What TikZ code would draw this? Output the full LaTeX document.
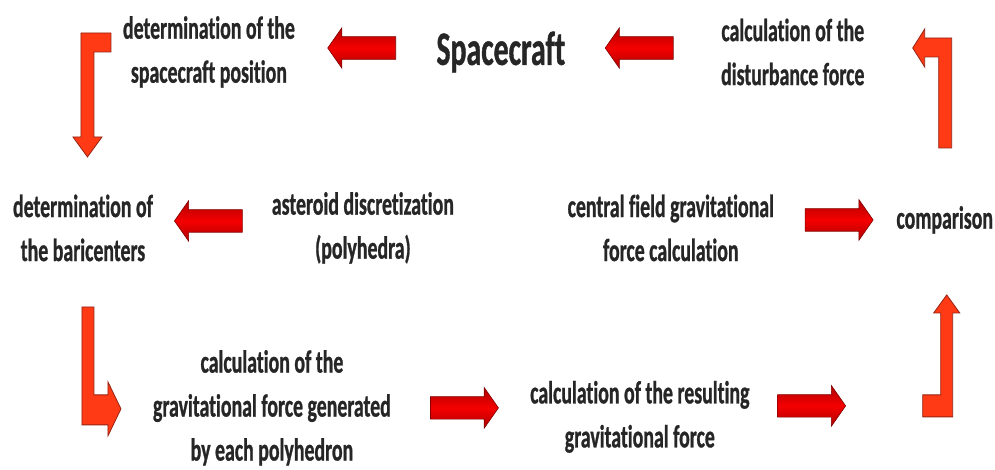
\documentclass[tikz,border=0pt]{standalone}
\usepackage{fontspec}
\newfontfamily\diagfont{Carlito}[FakeStretch=0.62, FakeBold=0.8, Ligatures=NoCommon]
\usepackage{tikz}
\usetikzlibrary{positioning,shapes.arrows}
\definecolor{arrowred}{RGB}{245,0,0}
\definecolor{arrowdark}{RGB}{175,0,0}
\definecolor{arrowedge}{RGB}{130,0,0}
\definecolor{bentorange}{RGB}{255,58,20}
\definecolor{bentedge}{RGB}{150,35,20}
\tikzstyle{stepbox} = [text centered, align=center, inner sep=2pt, text=black!85, font=\diagfont\bfseries\fontsize{32}{44}\selectfont]
\tikzstyle{titlebox} = [stepbox, font=\diagfont\bfseries\fontsize{48}{56}\selectfont]
\tikzstyle{fatarrow} = [single arrow, draw=arrowedge, top color=arrowdark, bottom color=arrowdark, middle color=arrowred, minimum height=68pt, inner xsep=0pt, inner ysep=11pt, single arrow head extend=9pt, single arrow tip angle=110, line width=0.6pt]
\tikzstyle{bentarrow} = [fill=bentorange, draw=bentedge, line width=0.8pt, line join=miter]

\begin{document}
\begin{tikzpicture}[x=1pt, y=1pt, node distance=292pt]

\fill[white] (0,0) rectangle (995,-470);

\node (pos) [stepbox] at (209,-52) {determination of the\\spacecraft position};
\node (craft) [titlebox, right of=pos] {Spacecraft};
\node (dist) [stepbox, right of=craft] {calculation of the\\disturbance force};
\path ([yshift=4pt]craft.west) -- ([yshift=4pt]pos.east) node[midway, sloped, allow upside down, fatarrow] {};
\path ([yshift=4pt]dist.west) -- ([yshift=4pt]craft.east) node[midway, sloped, allow upside down, fatarrow] {};

\node (bary) [stepbox] at (83,-228) {determination of\\the baricenters};
\node (disc) [stepbox, right of=bary, xshift=-12pt] {asteroid discretization\\(polyhedra)};
\node (central) [stepbox, right of=disc, xshift=16pt] {central field gravitational\\force calculation};
\node (comp) [stepbox, right of=central, xshift=-18pt, yshift=8pt] {comparison};
\path ([yshift=7pt]disc.west) -- ([yshift=7pt]bary.east) node[midway, sloped, allow upside down, fatarrow] {};
\path (central.east |- comp) -- (comp.west) node[midway, sloped, fatarrow] {};

\node (poly) [stepbox] at (272,-408) {calculation of the\\gravitational force generated\\by each polyhedron};
\node (result) [stepbox, right of=poly, xshift=76pt, yshift=-9pt] {calculation of the resulting\\gravitational force};
\coordinate (tail) at (864,-406);
\path (poly.east) -- (poly.east -| result.west) node[midway, sloped, fatarrow] {};
\path (result.east |- tail) -- (tail) node[midway, sloped, fatarrow] {};

% bent arrows
\draw[bentarrow] (111,-33) -- (81,-33) -- (81,-137) -- (73,-137) -- (87.5,-157) -- (102,-137) -- (94,-137) -- (94,-52) -- (111,-52) -- cycle;
\draw[bentarrow] (82,-307) -- (94,-307) -- (94,-395) -- (108,-395) -- (108,-382) -- (121,-409) -- (108,-436) -- (108,-425) -- (82,-425) -- cycle;
\draw[bentarrow] (953,-417) -- (923,-417) -- (923,-395) -- (941,-395) -- (941,-313) -- (934,-313) -- (947,-295) -- (960,-313) -- (953,-313) -- cycle;
\draw[bentarrow] (952,-148) -- (952,-38) -- (925,-38) -- (925,-29) -- (913,-48) -- (925,-67) -- (925,-57) -- (939,-57) -- (939,-148) -- cycle;

\end{tikzpicture}
\end{document}
